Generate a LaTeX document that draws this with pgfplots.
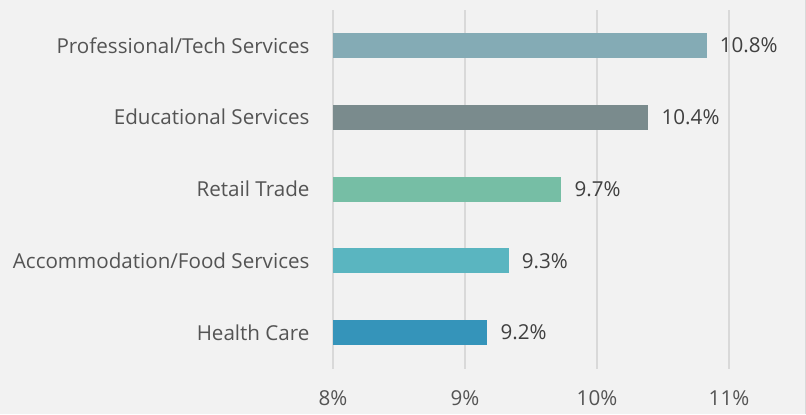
\documentclass[border=0pt]{standalone}
\usepackage{pgfplots}
\pgfplotsset{compat=1.18}
\usepackage{fontspec}
\setmainfont{Open Sans}
\definecolor{bg}{HTML}{F2F2F2}
\definecolor{gridc}{HTML}{D9D9D9}
\definecolor{txt}{HTML}{545454}
\definecolor{vtxt}{HTML}{404040}
\definecolor{cA}{HTML}{84ABB5}
\definecolor{cB}{HTML}{7A8B8D}
\definecolor{cC}{HTML}{76BEA5}
\definecolor{cD}{HTML}{5AB5C0}
\definecolor{cE}{HTML}{3594BA}
\begin{document}
\begin{tikzpicture}[x=1pt,y=1pt]
\fill[bg] (0,0) rectangle (806,414);
\draw[gridc, line width=1pt] (805,0) -- (805,414);
\begin{axis}[
  at={(333pt,46pt)}, anchor=south west,
  scale only axis, width=396pt, height=359pt,
  xbar, bar width=25pt,
  xmin=8, xmax=11, ymin=-0.5, ymax=4.5,
  xtick={8,9,10,11},
  xticklabel={\pgfmathprintnumber{\tick}\%},
  /pgf/number format/assume math mode=true,
  ytick={0,1,2,3,4},
  yticklabels={Health Care,Accommodation/Food Services,Retail Trade,Educational Services,Professional/Tech Services},
  xmajorgrids, grid style={gridc, line width=1.3pt},
  axis line style={draw=none},
  major tick length=0pt,
  tick label style={font=\fontsize{20.6}{24}\selectfont, text=txt},
  xticklabel style={yshift=-19pt},
  yticklabel style={xshift=-20pt},
  point meta=x,
  nodes near coords={\pgfmathprintnumber[fixed,fixed zerofill,precision=1]{\pgfplotspointmeta}\%},
  nodes near coords style={anchor=west, inner sep=0pt, xshift=13pt, font=\fontsize{20.6}{24}\selectfont, text=vtxt},
  clip=false,
]
\addplot[fill=cE, draw=none, bar shift=0pt] coordinates {(9.17,0)};
\addplot[fill=cD, draw=none, bar shift=0pt] coordinates {(9.33,1)};
\addplot[fill=cC, draw=none, bar shift=0pt] coordinates {(9.73,2)};
\addplot[fill=cB, draw=none, bar shift=0pt] coordinates {(10.39,3)};
\addplot[fill=cA, draw=none, bar shift=0pt] coordinates {(10.83,4)};
\end{axis}
\end{tikzpicture}
\end{document}
